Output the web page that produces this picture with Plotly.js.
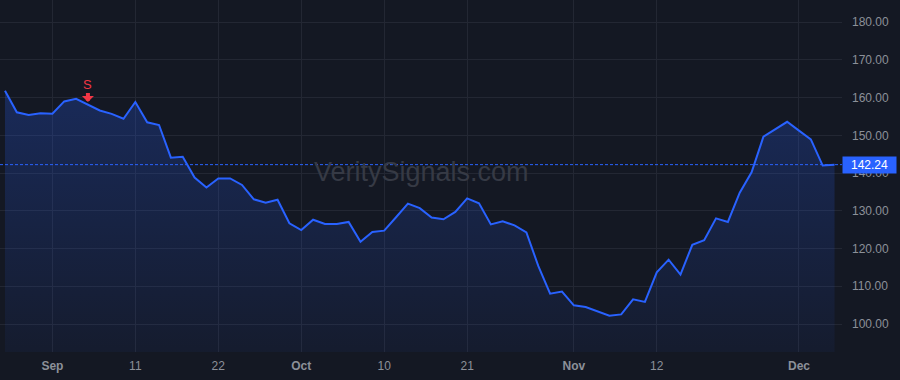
<!DOCTYPE html>
<html><head><meta charset="utf-8">
<script src="https://cdn.plot.ly/plotly-3.0.1.min.js"></script>
<style>html,body{margin:0;padding:0;background:#141823;}#chart{width:900px;height:380px;}</style>
</head><body><div id="chart"></div>
<script>
const prices = [161.8,156.1,155.4,155.85,155.75,159.0,159.7,158.2,156.6,155.7,154.4,158.85,153.45,152.75,144.1,144.3,138.8,136.2,138.6,138.6,136.85,133.05,132.15,132.95,126.7,124.9,127.65,126.5,126.5,127.05,121.8,124.4,124.75,128.3,131.9,130.7,128.2,127.75,129.7,133.3,132.0,126.4,127.2,126.15,124.3,115.4,108.05,108.6,104.95,104.5,103.45,102.2,102.55,106.55,105.85,113.7,117.05,113.1,121.0,122.2,128.0,127.05,134.8,140.2,149.65,151.6,153.6,151.25,148.95,142.0,142.24];
const tickIndex = [4, 11, 18, 25, 32, 39, 48, 55, 67];
const tickLabels = ['<b>Sep</b>','11','22','<b>Oct</b>','10','21','<b>Nov</b>','12','<b>Dec</b>'];
const signalIndex = [7];
const signalLabels = ['S'];
const watermark = 'VeritySignals.com';

const xs = prices.map((_, i) => i);
const last = prices[prices.length - 1];
const BG = '#141823', GRID = '#232733', TXT = '#8c9099', BLUE = '#2962ff', RED = '#f23645';
const FONT = 'Liberation Sans, Arial, sans-serif';

const trace = {
  x: xs, y: prices, type: 'scatter', mode: 'lines',
  line: {color: BLUE, width: 2},
  fill: 'tozeroy',
  fillgradient: {type: 'vertical', start: 92, stop: 160,
    colorscale: [[0, 'rgba(41,98,255,0.05)'], [1, 'rgba(41,98,255,0.24)']]},
  hoverinfo: 'skip'
};

const annotations = [
  {xref: 'paper', x: 0.5, yref: 'paper', y: 0.511, xanchor: 'center', yanchor: 'middle',
   text: watermark, showarrow: false, font: {family: FONT, size: 27, color: '#363a45'}},
  {xref: 'paper', x: 1, xanchor: 'left', yref: 'y', y: last, yanchor: 'middle',
   text: last.toFixed(2), showarrow: false, bgcolor: BLUE, width: 53, height: 16, borderpad: 0,
   font: {family: FONT, size: 12, color: '#ffffff'}}
];
signalIndex.forEach((si, k) => {
  annotations.push({x: si, y: prices[si], xref: 'x', yref: 'y', text: '', showarrow: true,
    ax: 0, ay: -13, arrowhead: 1, arrowwidth: 4, arrowsize: 0.5, arrowcolor: RED, standoff: 2.5});
  annotations.push({x: si, y: prices[si], xref: 'x', yref: 'y', text: signalLabels[k], showarrow: false,
    yshift: 20, font: {family: FONT, size: 13, color: RED}});
});

const layout = {
  width: 900, height: 380,
  paper_bgcolor: BG, plot_bgcolor: BG,
  margin: {l: 0, r: 58, t: 0, b: 28},
  showlegend: false,
  font: {family: FONT, color: TXT, size: 12},
  xaxis: {range: [-0.42, 70.63], tickmode: 'array', tickvals: tickIndex, ticktext: tickLabels,
    showgrid: true, gridcolor: GRID, gridwidth: 1, zeroline: false, showline: false, ticks: '',
    ticklabelstandoff: 5, tickfont: {family: FONT, size: 12, color: TXT}, fixedrange: true},
  yaxis: {side: 'right', range: [92.58, 185.88], dtick: 10, tick0: 0, tickformat: '.2f',
    showgrid: true, gridcolor: GRID, gridwidth: 1, zeroline: false, showline: false, ticks: '',
    ticklabelstandoff: 9, tickfont: {family: FONT, size: 12, color: TXT}, fixedrange: true},
  shapes: [{type: 'line', xref: 'paper', x0: 0, x1: 1, yref: 'y', y0: last, y1: last,
    line: {color: BLUE, width: 1, dash: '3px,2px'}, layer: 'above'}],
  annotations: annotations
};

Plotly.newPlot('chart', [trace], layout, {displayModeBar: false, staticPlot: true});
</script></body></html>
